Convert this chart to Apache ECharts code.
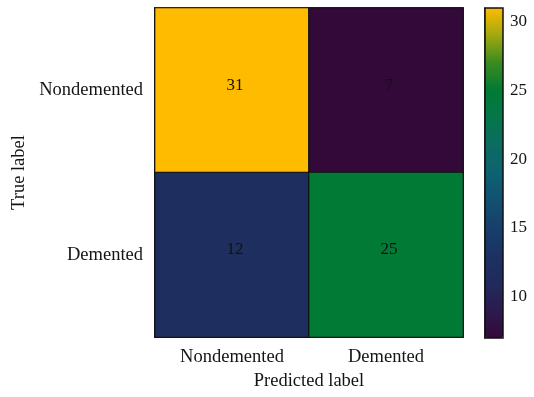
<!DOCTYPE html>
<html>
<head>
<meta charset="utf-8">
<script src="https://cdn.jsdelivr.net/npm/echarts@6/dist/echarts.min.js"></script>
<style>
  html, body { margin: 0; padding: 0; background: #fff; }
  #chart { width: 534px; height: 397px; }
</style>
</head>
<body>
<div id="chart"></div>
<script>
// Confusion matrix: rows = true label, columns = predicted label
const classNames = ['Nondemented', 'Demented'];
const rowNondemented = [31, 7];
const rowDemented = [12, 25];
const colorbarTicks = [10, 15, 20, 25, 30];
const valueMin = 7;
const valueMax = 31;

const matrix = [rowNondemented, rowDemented];
const cells = [];
matrix.forEach((row, r) => row.forEach((v, c) => cells.push([c, r, v])));

const FONT = "'Liberation Serif', 'DejaVu Serif', serif";
const INK = '#141414';

const chart = echarts.init(document.getElementById('chart'));
chart.setOption({
  animation: false,
  backgroundColor: '#ffffff',
  textStyle: { fontFamily: FONT, color: INK },
  grid: [
    { left: 155, top: 8, right: 71, bottom: 60, show: true, borderColor: '#111', borderWidth: 1.5, backgroundColor: 'transparent' },
    { left: 485, top: 8, width: 18, height: 330, show: true, borderColor: '#111', borderWidth: 1.5, backgroundColor: 'transparent', z: 10 }
  ],
  xAxis: [
    {
      type: 'category', data: classNames, gridIndex: 0,
      name: 'Predicted label', nameLocation: 'middle', nameGap: 28,
      nameTextStyle: { fontFamily: FONT, fontSize: 18.5, color: INK },
      axisLine: { lineStyle: { color: '#111', width: 1.5 } },
      axisTick: { alignWithLabel: true, length: 6, lineStyle: { color: '#111', width: 1.2 } },
      axisLabel: { fontFamily: FONT, fontSize: 18.5, color: INK, margin: 11 },
      splitLine: { show: false }
    },
    { type: 'value', gridIndex: 1, show: false, min: 0, max: 1 }
  ],
  yAxis: [
    {
      type: 'category', data: classNames, gridIndex: 0, inverse: true,
      name: 'True label', nameLocation: 'middle', nameGap: 126, nameRotate: 90,
      nameTextStyle: { fontFamily: FONT, fontSize: 18.5, color: INK },
      axisLine: { lineStyle: { color: '#111', width: 1.5 } },
      axisTick: { alignWithLabel: true, length: 6, lineStyle: { color: '#111', width: 1.2 } },
      axisLabel: { fontFamily: FONT, fontSize: 18.5, color: INK, margin: 12 },
      splitLine: { show: false }
    },
    {
      type: 'value', gridIndex: 1, position: 'right', min: valueMin, max: valueMax,
      axisLine: { show: true, lineStyle: { color: '#111', width: 1.5 } },
      axisTick: { show: true, length: 4, customValues: colorbarTicks, lineStyle: { color: '#111', width: 1.2 } },
      axisLabel: { fontFamily: FONT, fontSize: 17, color: INK, margin: 7, customValues: colorbarTicks },
      splitLine: { show: false }
    }
  ],
  visualMap: {
    type: 'continuous',
    seriesIndex: 0,
    min: valueMin,
    max: valueMax,
    calculable: false,
    orient: 'vertical',
    left: 485,
    top: 8,
    padding: 0,
    itemWidth: 18,
    itemHeight: 330,
    text: null,
    inRange: {
      color: ['#33093a', '#2d1a4e', '#212a5c', '#1b3262', '#173f6c', '#125070', '#0e6270',
              '#0b6c62', '#05764a', '#007a35', '#3a8a20', '#a0a810', '#ffbb00']
    }
  },
  series: [{
    type: 'heatmap',
    xAxisIndex: 0,
    yAxisIndex: 0,
    data: cells,
    itemStyle: { borderColor: '#111', borderWidth: 1.2 },
    label: {
      show: true,
      fontFamily: FONT,
      fontSize: 17,
      color: '#111',
      offset: [3, -5],
      formatter: p => String(p.value[2])
    }
  }]
});
</script>
</body>
</html>
